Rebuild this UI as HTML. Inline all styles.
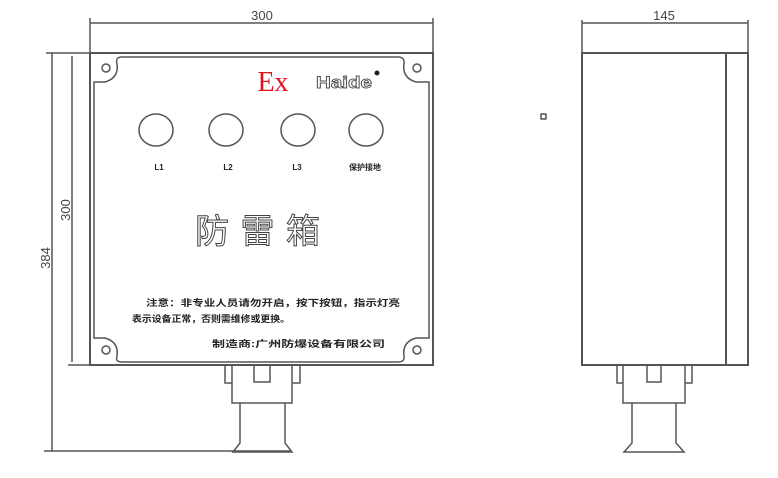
<!DOCTYPE html>
<html><head><meta charset="utf-8"><style>
body{margin:0;background:#fff;width:778px;height:478px;overflow:hidden}
svg{display:block}
text{font-family:"Liberation Sans","Noto Sans CJK SC",sans-serif}
</style></head><body>
<svg width="778" height="478" viewBox="0 0 778 478" xmlns="http://www.w3.org/2000/svg">
<g stroke="#555" fill="none" stroke-width="1.5">
<line x1="90" y1="23" x2="433" y2="23"/>
<line x1="90" y1="18" x2="90" y2="53"/><line x1="433" y1="18" x2="433" y2="53"/>
<line x1="52" y1="53" x2="52" y2="451"/><line x1="46" y1="53" x2="90" y2="53"/><line x1="44" y1="451" x2="290" y2="451"/>
<line x1="72" y1="56" x2="72" y2="362"/><line x1="68" y1="365" x2="90" y2="365"/>
<rect x="90" y="53" width="343" height="312" stroke-width="2"/>
<path d="M122,57 H398 Q405,57 404,64 Q402,78 416,82 H429 V338 H416 Q402,342 404,356 Q405,362 398,362 H122 Q115,362 117,356 Q119,342 105,338 H94 V82 H105 Q119,78 117,64 Q115,57 122,57 Z"/>
<circle cx="106" cy="68" r="4"/><circle cx="417" cy="68" r="4"/>
<circle cx="106" cy="350" r="4"/><circle cx="417" cy="350" r="4"/>
<ellipse cx="156" cy="130" rx="17" ry="16"/><ellipse cx="226" cy="130" rx="17" ry="16"/>
<ellipse cx="298" cy="130" rx="17" ry="16"/><ellipse cx="366" cy="130" rx="17" ry="16"/>
<path d="M225,365 V383 H232 M300,365 V383 H292"/>
<rect x="232" y="365" width="60" height="38"/>
<path d="M254,365 V382 H270 V365"/>
<path d="M240,403 V443 L233,452 H292 L285,443 V403"/>
<line x1="582" y1="23" x2="748" y2="23"/>
<line x1="582" y1="20" x2="582" y2="365"/><line x1="748" y1="20" x2="748" y2="365"/>
<rect x="582" y="53" width="166" height="312" stroke-width="2"/>
<line x1="726" y1="53" x2="726" y2="365" stroke-width="2"/>
<path d="M617,365 V383 H623 M692,365 V383 H685"/>
<rect x="623" y="365" width="62" height="38"/>
<path d="M647,365 V382 H661 V365"/>
<path d="M632,403 V443 L624,452 H684 L676,443 V403"/>
<rect x="541" y="114" width="5" height="5" stroke="#000" stroke-width="1"/>
</g>
<text x="262" y="20" font-size="13" fill="#444" text-anchor="middle">300</text>
<text x="664" y="20" font-size="13" fill="#444" text-anchor="middle">145</text>
<text transform="translate(50,258) rotate(-90)" font-size="13" fill="#444" text-anchor="middle">384</text>
<text transform="translate(70,210) rotate(-90)" font-size="13" fill="#444" text-anchor="middle">300</text>
<text x="273" y="91" font-size="28" fill="#e0141e" text-anchor="middle" style="font-family:'Liberation Serif',serif">Ex</text>
<text x="316" y="88" font-size="17" font-weight="bold" fill="#fff" stroke="#555" stroke-width="0.9" textLength="56" lengthAdjust="spacingAndGlyphs">Haide</text>
<circle cx="377" cy="73" r="2.5" fill="#222"/>
<g font-size="8" font-weight="bold" fill="#222" text-anchor="middle">
<text x="159" y="170">L1</text><text x="228" y="170">L2</text><text x="297" y="170">L3</text><text x="365" y="170">保护接地</text>
</g>
<text x="195" y="243" font-size="34" fill="#fff" stroke="#444" stroke-width="1" textLength="125" lengthAdjust="spacing">防雷箱</text>
<g font-size="9" font-weight="bold" fill="#222">
<text x="146" y="306" textLength="254" lengthAdjust="spacingAndGlyphs">注意：非专业人员请勿开启，按下按钮，指示灯亮</text>
<text x="132" y="322" textLength="158" lengthAdjust="spacingAndGlyphs">表示设备正常，否则需维修或更换。</text>
<text x="212" y="347" textLength="173" lengthAdjust="spacingAndGlyphs">制造商:广州防爆设备有限公司</text>
</g>
</svg>
</body></html>
